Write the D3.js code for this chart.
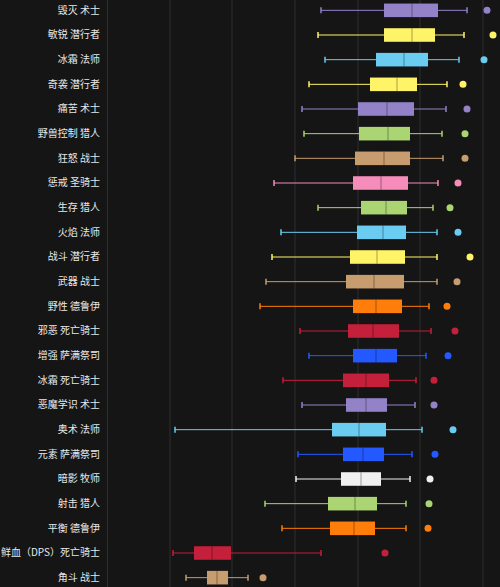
<!DOCTYPE html>
<html><head><meta charset="utf-8">
<script src="https://cdn.jsdelivr.net/npm/d3@7"></script>
<style>body{margin:0;background:#151515}</style>
</head><body><div id="chart"></div>
<script>
const specs = ["毁灭 术士","敏锐 潜行者","冰霜 法师","奇袭 潜行者","痛苦 术士","野兽控制 猎人","狂怒 战士","惩戒 圣骑士","生存 猎人","火焰 法师","战斗 潜行者","武器 战士","野性 德鲁伊","邪恶 死亡骑士","增强 萨满祭司","冰霜 死亡骑士","恶魔学识 术士","奥术 法师","元素 萨满祭司","暗影 牧师","射击 猎人","平衡 德鲁伊","鲜血（DPS）死亡骑士","角斗 战士"];
const colors = ["#9482c9","#fff468","#69ccf0","#fff468","#9482c9","#abd473","#c79c6e","#f58cba","#abd473","#69ccf0","#fff468","#c79c6e","#ff7d0a","#c41f3b","#2459ff","#c41f3b","#9482c9","#69ccf0","#2459ff","#f0f0f0","#abd473","#ff7d0a","#c41f3b","#c79c6e"];
const low  = [214,211,218,202,195,197,188,167,211,174,165,159,153,193,202,176,195,68,191,189,158,175,66,79];
const q1   = [277,277,269,263,251,252,248,246,254,250,243,239,246,241,246,236,239,225,236,234,221,223,87,100];
const med  = [305,305,297,290,280,281,277,274,279,276,270,267,269,266,269,259,259,252,256,254,248,247,105,110];
const q3   = [331,328,321,310,307,303,303,301,300,299,298,297,295,292,290,282,280,279,277,274,270,268,124,121];
const high = [360,357,352,340,339,335,336,331,326,330,330,330,322,324,319,309,308,315,305,303,299,299,214,141];
const outl = [380,386,377,356,360,358,358,351,343,351,363,350,340,348,341,327,327,346,328,323,322,321,278,156];
const gridTicks = [63,125,188,251,313,376];

const W = 500, H = 587;
const svg = d3.select("#chart").append("svg").attr("width", W).attr("height", H);
const x = d3.scaleLinear().domain([0, 394]).range([107, 501]);
const y = d3.scaleBand().domain(specs).range([-2, 590]).paddingInner(0.45).paddingOuter(0.225);

svg.selectAll("line.grid").data(gridTicks).enter().append("line")
  .attr("x1", d => x(d)).attr("x2", d => x(d)).attr("y1", 0).attr("y2", H)
  .attr("stroke", "#2e2e2e").attr("stroke-width", 1);

const yAxis = svg.append("g").attr("transform", "translate(107,0)")
  .call(d3.axisLeft(y).tickSize(0).tickPadding(7));
yAxis.select(".domain").attr("stroke", "#2e2e2e");
yAxis.selectAll("text").attr("fill", "#e8e8e8").style("font-size", "10px")
  .style("font-family", "'Noto Sans CJK SC', sans-serif");

const row = svg.selectAll("g.row").data(specs).enter().append("g")
  .attr("transform", d => `translate(0,${y(d) + y.bandwidth() / 2})`);
const bh = y.bandwidth();
row.append("line").attr("x1", (d, i) => x(low[i])).attr("x2", (d, i) => x(high[i]))
  .attr("stroke", (d, i) => colors[i]).attr("stroke-width", 1);
row.append("line").attr("x1", (d, i) => x(low[i])).attr("x2", (d, i) => x(low[i]))
  .attr("y1", -3).attr("y2", 3).attr("stroke", (d, i) => colors[i]).attr("stroke-width", 1.5);
row.append("line").attr("x1", (d, i) => x(high[i])).attr("x2", (d, i) => x(high[i]))
  .attr("y1", -3).attr("y2", 3).attr("stroke", (d, i) => colors[i]).attr("stroke-width", 1.5);
row.append("rect").attr("x", (d, i) => x(q1[i])).attr("width", (d, i) => x(q3[i]) - x(q1[i]))
  .attr("y", -bh / 2).attr("height", bh).attr("fill", (d, i) => colors[i]);
row.append("line").attr("x1", (d, i) => x(med[i])).attr("x2", (d, i) => x(med[i]))
  .attr("y1", -bh / 2).attr("y2", bh / 2).attr("stroke", "rgba(0,0,0,0.35)").attr("stroke-width", 1);
row.append("circle").attr("cx", (d, i) => x(outl[i])).attr("r", 3.5)
  .attr("fill", (d, i) => colors[i]);
</script></body></html>
